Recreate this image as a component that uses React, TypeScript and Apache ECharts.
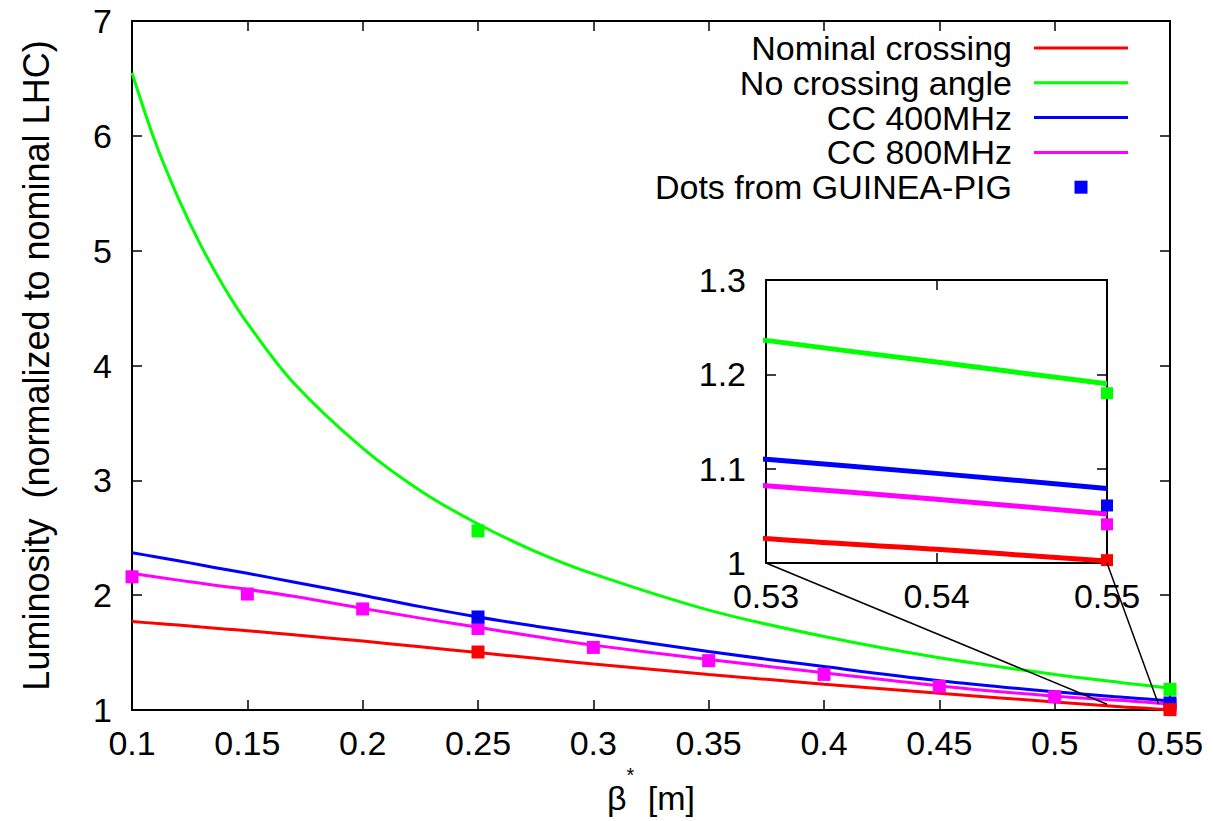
import React, { useEffect, useRef } from "react";
import * as echarts from "echarts";

const betaSamples = [0.1, 0.11, 0.12, 0.13, 0.14, 0.15, 0.17, 0.2, 0.225, 0.25, 0.275, 0.3, 0.35, 0.4, 0.45, 0.5, 0.53, 0.54, 0.55];
const nominalCrossing = [1.77, 1.755, 1.74, 1.722, 1.706, 1.69, 1.655, 1.6, 1.55, 1.5, 1.45, 1.4, 1.31, 1.225, 1.145, 1.07, 1.026, 1.0145, 1.002];
const noCrossingAngle = [6.55, 5.95, 5.46, 5.04, 4.68, 4.37, 3.85, 3.28, 2.91, 2.62, 2.38, 2.185, 1.87, 1.64, 1.455, 1.31, 1.236, 1.213, 1.19];
const cc400 = [2.37, 2.335, 2.3, 2.262, 2.226, 2.19, 2.115, 2.0, 1.9, 1.81, 1.73, 1.655, 1.51, 1.378, 1.255, 1.158, 1.11, 1.095, 1.079];
const cc800 = [2.19, 2.16, 2.131, 2.103, 2.076, 2.05, 1.99, 1.885, 1.8, 1.72, 1.64, 1.565, 1.44, 1.325, 1.21, 1.12, 1.082, 1.0675, 1.052];

// GUINEA-PIG dots
const dotBetaCC800 = [0.1, 0.15, 0.2, 0.25, 0.3, 0.35, 0.4, 0.45, 0.5, 0.55];
const dotsCC800 = [2.16, 2.01, 1.88, 1.71, 1.545, 1.43, 1.31, 1.205, 1.115, 1.041];
const dotBetaOthers = [0.25, 0.55];
const dotsCC400 = [1.81, 1.061];
const dotsNoCrossing = [2.56, 1.18];
const dotsNominal = [1.505, 1.003];

const seriesNames = ["Nominal crossing", "No crossing angle", "CC 400MHz", "CC 800MHz"];
const dotsName = "Dots from GUINEA-PIG";
const colors = ["#ff0000", "#00ff00", "#0000ff", "#ff00ff"];

// zoom connector lines: inset corners (inset coords) -> main plot points (main coords)
const connectorFrom = [[0.53, 1.0], [0.55, 1.0]];
const connectorTo = [[0.5227, 1.05], [0.545, 1.05]];

const FONT = "Liberation Sans, Arial, Helvetica, sans-serif";
const FS = 34;

export default function App() {
  const ref = useRef<HTMLDivElement>(null);

  useEffect(() => {
    if (!ref.current) return;
    const chart = echarts.init(ref.current, null, { renderer: "svg" });

    const curves = [nominalCrossing, noCrossingAngle, cc400, cc800];
    const zip = (xs: number[], ys: number[]) => xs.map((x, i) => [x, ys[i]]);

    const dotGroups = [
      { xs: dotBetaCC800, ys: dotsCC800, color: colors[3] },
      { xs: dotBetaOthers, ys: dotsCC400, color: colors[2] },
      { xs: dotBetaOthers, ys: dotsNoCrossing, color: colors[1] },
      { xs: dotBetaOthers, ys: dotsNominal, color: colors[0] },
    ];
    const dotItems = (minX: number) =>
      dotGroups.flatMap((g) =>
        g.xs
          .map((x, i) => ({ value: [x, g.ys[i]], itemStyle: { color: g.color, opacity: 1 } }))
          .filter((d) => d.value[0] >= minX - 1e-9)
      );

    const axisLine = { show: true, onZero: false, lineStyle: { color: "#000", width: 2 } };
    const tick = (show: boolean) => ({ show, inside: true, length: 10, lineStyle: { color: "#000", width: 1.5 } });
    const label = (show: boolean, margin: number) => ({
      show,
      margin,
      color: "#000",
      fontSize: FS,
      fontFamily: FONT,
    });

    const mainGrid = { left: 132, top: 21, right: 43, bottom: 111, show: false, outerBoundsMode: "none" };
    const insetGrid = {
      left: 766,
      top: 280,
      width: 341,
      height: 283,
      show: true,
      backgroundColor: "#fff",
      borderWidth: 0,
      outerBoundsMode: "none",
    };

    // legend icons: wide bounding box (first two moveTo points) with the visible mark inside
    const lineIcon = "path://M0,0M111,14M17,5.5h94v3h-94z";
    const dotIcon = "path://M0,0M111,14M57.5,0.5h13v13h-13z";

    const option: any = {
      animation: false,
      backgroundColor: "#fff",
      textStyle: { fontFamily: FONT, color: "#000" },
      grid: [mainGrid, insetGrid],
      legend: {
        orient: "vertical",
        right: 85,
        top: 31,
        padding: 0,
        align: "right",
        itemGap: 0.8,
        itemWidth: 111,
        itemHeight: 14,
        selectedMode: false,
        textStyle: { fontSize: FS, fontFamily: FONT, color: "#000" },
        data: [
          ...seriesNames.map((n) => ({ name: n, icon: lineIcon })),
          { name: dotsName, icon: dotIcon },
        ],
      },
      xAxis: [
        {
          type: "value",
          gridIndex: 0,
          min: 0.1,
          max: 0.55,
          interval: 0.05,
          position: "bottom",
          axisLine,
          axisTick: tick(true),
          axisLabel: label(true, 16),
          splitLine: { show: false },
          name: "{b|β}{s|*}{b| [m]}",
          nameLocation: "middle",
          nameGap: 49,
          nameTextStyle: {
            rich: {
              b: { fontSize: FS, fontFamily: FONT, color: "#000", lineHeight: 50, verticalAlign: "bottom" },
              s: { fontSize: 20, fontFamily: FONT, color: "#000", lineHeight: 50, verticalAlign: "top", padding: [0, 4, 0, 0] },
            },
          },
        },
        {
          type: "value",
          gridIndex: 0,
          min: 0.1,
          max: 0.55,
          interval: 0.05,
          position: "top",
          axisLine,
          axisTick: tick(true),
          axisLabel: { show: false },
          splitLine: { show: false },
        },
        {
          type: "value",
          gridIndex: 1,
          min: 0.53,
          max: 0.55,
          interval: 0.01,
          position: "bottom",
          axisLine,
          axisTick: tick(true),
          axisLabel: label(true, 16),
          splitLine: { show: false },
        },
        {
          type: "value",
          gridIndex: 1,
          min: 0.53,
          max: 0.55,
          interval: 0.01,
          position: "top",
          axisLine,
          axisTick: tick(true),
          axisLabel: { show: false },
          splitLine: { show: false },
        },
      ],
      yAxis: [
        {
          type: "value",
          gridIndex: 0,
          min: 1,
          max: 7,
          interval: 1,
          position: "left",
          axisLine,
          axisTick: tick(true),
          axisLabel: label(true, 20),
          splitLine: { show: false },
          name: "Luminosity\u00a0\u00a0(normalized to nominal LHC)",
          nameLocation: "middle",
          nameGap: 78,
          nameTextStyle: { fontSize: 36, fontFamily: FONT, color: "#000" },
        },
        {
          type: "value",
          gridIndex: 0,
          min: 1,
          max: 7,
          interval: 1,
          position: "right",
          axisLine,
          axisTick: tick(true),
          axisLabel: { show: false },
          splitLine: { show: false },
        },
        {
          type: "value",
          gridIndex: 1,
          min: 1,
          max: 1.3,
          interval: 0.1,
          position: "left",
          axisLine,
          axisTick: tick(true),
          axisLabel: label(true, 20),
          splitLine: { show: false },
        },
        {
          type: "value",
          gridIndex: 1,
          min: 1,
          max: 1.3,
          interval: 0.1,
          position: "right",
          axisLine,
          axisTick: tick(true),
          axisLabel: { show: false },
          splitLine: { show: false },
        },
      ],
      series: [
        ...seriesNames.map((name, i) => ({
          name,
          type: "line",
          xAxisIndex: 0,
          yAxisIndex: 0,
          data: zip(betaSamples, curves[i]),
          symbol: "none",
          smooth: 0.35,
          color: colors[i],
          lineStyle: { color: colors[i], width: 3 },
          z: 2,
        })),
        ...seriesNames.map((name, i) => ({
          name: name + " (zoom)",
          type: "line",
          xAxisIndex: 2,
          yAxisIndex: 2,
          data: zip(betaSamples, curves[i]),
          symbol: "none",
          smooth: 0.35,
          color: colors[i],
          lineStyle: { color: colors[i], width: 5 },
          z: 4,
        })),
        {
          name: dotsName,
          type: "scatter",
          xAxisIndex: 0,
          yAxisIndex: 0,
          symbol: "rect",
          symbolSize: 13,
          color: colors[2],
          itemStyle: { opacity: 1 },
          clip: false,
          data: dotItems(0.1),
          z: 3,
        },
        {
          name: dotsName + " (zoom)",
          type: "scatter",
          xAxisIndex: 2,
          yAxisIndex: 2,
          symbol: "rect",
          symbolSize: 12,
          color: colors[2],
          itemStyle: { opacity: 1 },
          clip: false,
          data: dotItems(0.53),
          z: 5,
        },
      ],
    };

    chart.setOption(option);

    const lines = connectorFrom.map((from, i) => {
      const p1 = chart.convertToPixel({ xAxisIndex: 2, yAxisIndex: 2 } as any, from) as number[];
      const p2 = chart.convertToPixel({ xAxisIndex: 0, yAxisIndex: 0 } as any, connectorTo[i]) as number[];
      return {
        type: "line",
        z: 10,
        shape: { x1: p1[0], y1: p1[1], x2: p2[0], y2: p2[1] },
        style: { stroke: "#000", lineWidth: 1.5 },
      };
    });
    chart.setOption({ graphic: lines });

    return () => chart.dispose();
  }, []);

  return (
    <div
      ref={ref}
      style={{ position: "absolute", left: 0, top: 0, width: 1213, height: 821, background: "#fff" }}
    />
  );
}
